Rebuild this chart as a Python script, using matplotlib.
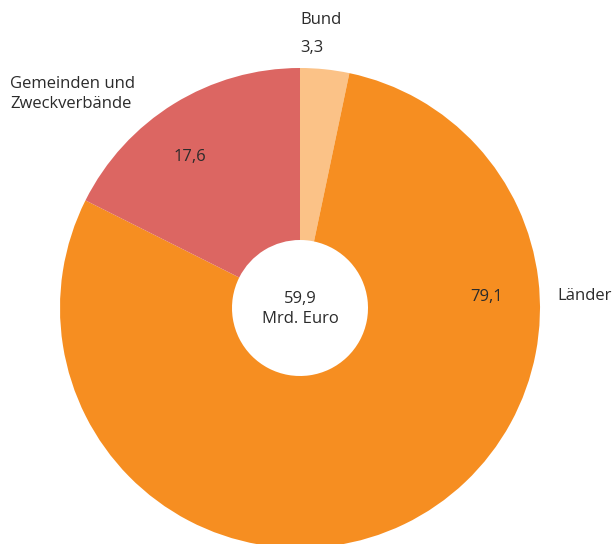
import matplotlib
matplotlib.use("Agg")
import matplotlib.pyplot as plt

categories = ["Bund", "Länder", "Gemeinden und\nZweckverbände"]
values = [3.3, 79.1, 17.6]
colors = ["#FBC287", "#F68E21", "#DC6662"]
total_label = "59,9\nMrd. Euro"

W, H = 616, 544
fig = plt.figure(figsize=(W / 100, H / 100), dpi=100)
ax = fig.add_axes([0, 0, 1, 1])

cx, cy = 300, H - 308
R, r = 240, 68
ax.pie(values, colors=colors, startangle=90, counterclock=False,
       center=(cx, cy), radius=R, frame=True,
       wedgeprops=dict(width=R - r, linewidth=0))
ax.set_xlim(0, W)
ax.set_ylim(0, H)
ax.set_aspect("equal")
ax.axis("off")

fam = ["Open Sans", "DejaVu Sans"]
tc = "#2b2b2b"
fs = 12

def fmt(v):
    return f"{v:.1f}".replace(".", ",")

# Bund
ax.text(300, H - 20, categories[0], ha="left", va="center", fontsize=fs, color=tc, family=fam)
ax.text(300, H - 48, fmt(values[0]), ha="left", va="center", fontsize=fs, color=tc, family=fam)
# Länder
ax.text(557, H - 296, categories[1], ha="left", va="center", fontsize=fs, color=tc, family=fam)
ax.text(487, H - 297, fmt(values[1]), ha="center", va="center", fontsize=fs, color=tc, family=fam)
# Gemeinden
ax.text(10, H - 94, categories[2], ha="left", va="center", fontsize=fs, color=tc,
        family=fam, linespacing=1.4)
ax.text(190, H - 157, fmt(values[2]), ha="center", va="center", fontsize=fs, color=tc, family=fam)
# center
ax.text(cx, H - 309, total_label, ha="center", va="center", fontsize=fs, color=tc,
        family=fam, linespacing=1.4)

fig.savefig("out.png", dpi=100, facecolor="white")
